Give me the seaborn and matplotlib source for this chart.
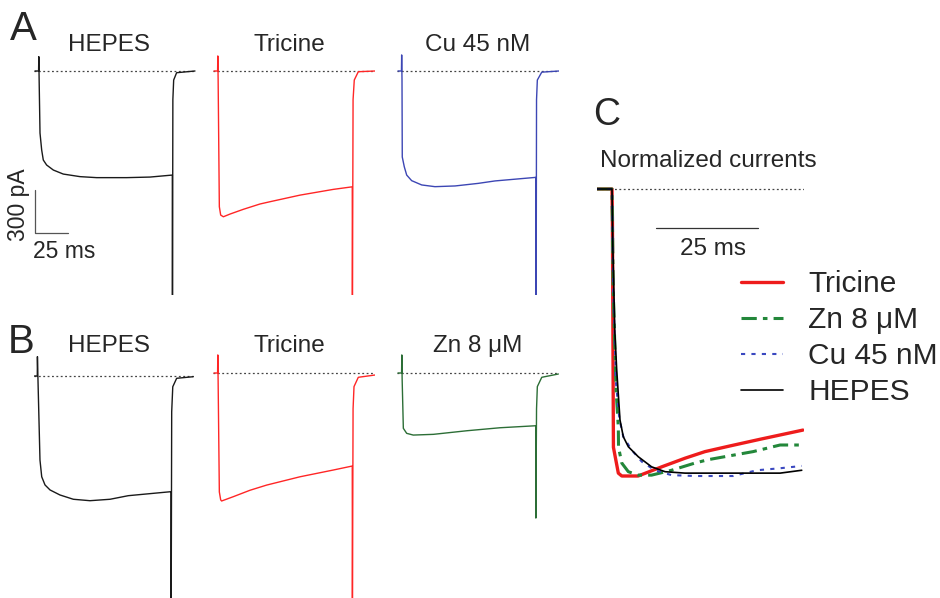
import matplotlib
matplotlib.use("Agg")
import matplotlib.pyplot as plt
import seaborn as sns

sns.set_theme(style="white")
plt.rcParams['font.family'] = ['Liberation Sans', 'DejaVu Sans']

# ---------------- data (time in ms, current in pA) ----------------
A_hepes_t = [-3, -0.3, -0.15, 0.1, 0.75, 2.0, 3.2, 5.7, 10.7, 18.1, 30.6, 43.0, 65.4, 82.8, 99.5,
             99.6, 99.9, 100.5, 102.7, 116.4]
A_hepes_i = [0, 0, 100, -60, -433, -551, -621, -656, -691, -719, -737, -744, -744, -740, -726,
             -1700, -200, -63, -12, 0]

A_tric_t = [-3, -0.3, -0.15, 0.1, 1.0, 2.0, 4.0, 9.0, 18.9, 31.3, 38.8, 61.2, 86.0, 100.2,
            100.3, 100.8, 101.7, 104.7, 117.2]
A_tric_i = [0, 0, 105, -60, -947, -1005, -1017, -998, -965, -928, -912, -866, -826, -808,
            -1700, -200, -63, -5, 0]

A_cu_t = [-3, -0.4, -0.25, 0.0, 0.2, 1.7, 3.5, 7.2, 14.7, 24.6, 39.6, 56.9, 69.4, 100.0,
          100.1, 100.4, 101.0, 104.3, 117.2]
A_cu_i = [0, 0, 112, -60, -600, -668, -726, -765, -795, -807, -802, -784, -767, -742,
          -1700, -200, -63, -8, 0]

B_hepes_t = [-3, -0.9, -0.8, -0.3, 1.1, 2.4, 4.85, 8.6, 16.0, 26.0, 38.4, 53.4, 67.0, 98.9,
             99.0, 99.4, 100.2, 103.1, 115.4]
B_hepes_i = [0, 0, 135, -60, -586, -703, -760, -795, -830, -860, -870, -860, -835, -807,
             -1700, -250, -75, -16, -5]

B_tric_t = [-3, -0.3, -0.15, 0.1, 1.0, 2.0, 2.7, 11.4, 23.9, 36.3, 61.2, 86.0, 100.2,
            100.3, 100.8, 101.5, 104.7, 117.2]
B_tric_i = [0, 0, 126, -60, -830, -885, -893, -863, -818, -782, -724, -677, -649,
            -1700, -250, -95, -30, -14]

B_zn_t = [-3, -0.3, -0.15, 0.1, 1.0, 3.5, 8.4, 23.4, 48.3, 73.1, 99.8, 99.9, 100.4, 101.0, 104.3, 116.7]
B_zn_i = [0, 0, 126, -40, -386, -421, -433, -428, -403, -382, -368, -1012, -250, -95, -30, -7]

# normalized currents (panel C), time in ms
C_tric_t = [-3.7, 0, 0.1, 0.35, 1.55, 2.4, 6.4, 12.2, 17.9, 22.8, 29.0, 36.3, 46.8]
C_tric_n = [0, 0, -0.1, -0.9, -0.99, -1.0, -1.0, -0.968, -0.938, -0.915, -0.895, -0.872, -0.84]
C_zn_t = [-3.7, 0, 0.3, 1.0, 1.55, 1.6, 2.4, 4.0, 6.45, 9.7, 14.6, 20.3, 23.6, 34.6, 41.2, 46.8]
C_zn_n = [0, 0, -0.35, -0.7, -0.83, -0.9, -0.955, -0.985, -0.997, -0.997, -0.98, -0.955, -0.943,
          -0.915, -0.892, -0.892]
C_cu_t = [-3.7, 0, 0.3, 1.0, 1.8, 2.77, 4.8, 7.3, 10.5, 14.6, 20.3, 29.7, 35.5, 41.2, 46.5]
C_cu_n = [0, 0, -0.35, -0.68, -0.8, -0.863, -0.909, -0.95, -0.98, -0.997, -1.0, -1.0, -0.98,
          -0.973, -0.965]
C_hep_t = [-3.7, 0, 0.2, 0.7, 1.15, 1.96, 2.77, 4.0, 6.45, 9.7, 13.0, 17.9, 22.8, 28.9, 41.2, 46.5]
C_hep_n = [0, 0, -0.2, -0.5, -0.63, -0.805, -0.863, -0.898, -0.933, -0.968, -0.985, -0.99, -0.99,
           -0.99, -0.99, -0.98]

titles_A = ["HEPES", "Tricine", "Cu 45 nM"]
titles_B = ["HEPES", "Tricine", "Zn 8 \u03bcM"]
legend_labels = ["Tricine", "Zn 8 \u03bcM", "Cu 45 nM", "HEPES"]

# ---------------- layout ----------------
W, H = 940, 598
fig = plt.figure(figsize=(W / 100, H / 100), dpi=100)
fig.patch.set_facecolor("white")

SX = 1.34          # px per ms (panels A, B)
SY = 43 / 300.0    # px per pA

def px_axes(x0, y0, xlim, ylim, sx, sy):
    left = x0 + xlim[0] * sx
    width = (xlim[1] - xlim[0]) * sx
    top = y0 - ylim[1] * sy
    height = (ylim[1] - ylim[0]) * sy
    ax = fig.add_axes([left / W, 1 - (top + height) / H, width / W, height / H])
    ax.set_xlim(xlim)
    ax.set_ylim(ylim)
    ax.axis("off")
    return ax

def ftext(x, y, s, **kw):
    fig.text(x / W, 1 - y / H, s, **kw)

BLACK = "#1a1a1a"
RED = "#ff2626"
BLUE = "#3c46b4"
GREEN = "#2c6e36"

panels = [
    (39, 71, A_hepes_t, A_hepes_i, BLACK, (-1563, 150)),
    (218, 71, A_tric_t, A_tric_i, RED, (-1563, 150)),
    (402, 71, A_cu_t, A_cu_i, BLUE, (-1563, 150)),
    (38.5, 376, B_hepes_t, B_hepes_i, BLACK, (-1700, 150)),
    (218, 373, B_tric_t, B_tric_i, RED, (-1700, 150)),
    (402, 373, B_zn_t, B_zn_i, GREEN, (-1700, 150)),
]

axes = []
for x0, y0, t, i, col, yl in panels:
    ax = px_axes(x0, y0, (-3.5, 117.5), yl, SX, SY)
    ax.axhline(0, color="#444444", lw=0.9, ls=(0, (1.5, 2)), zorder=0)
    sns.lineplot(x=t, y=i, ax=ax, sort=False, estimator=None, color=col, lw=1.0)
    axes.append(ax)

# scale bar (panel A): 25 ms x 300 pA
axA = axes[0]
sb_t = [-3, -3, 22]
sb_i = [-830, -1130, -1130]
sns.lineplot(x=sb_t, y=sb_i, ax=axA, sort=False, estimator=None, color="#555555", lw=0.9)
ftext(19, 205, "300 pA", rotation=90, ha="center", va="center", fontsize=16.5)
ftext(64, 258, "25 ms", ha="center", va="baseline", fontsize=16.5)

# ---------------- panel C ----------------
axC = px_axes(612, 189, (-3.7, 47.0), (-1.05, 0.03), 4.08, 287.0)
axC.axhline(0, color="#444444", lw=0.9, ls=(0, (1.5, 2)), zorder=0)
sns.lineplot(x=C_tric_t, y=C_tric_n, ax=axC, sort=False, estimator=None,
             color="#ee1c1c", lw=2.4, label=legend_labels[0])
sns.lineplot(x=C_zn_t, y=C_zn_n, ax=axC, sort=False, estimator=None,
             color="#23873a", lw=2.2, linestyle=(0, (5, 2, 1.5, 2)), label=legend_labels[1])
sns.lineplot(x=C_cu_t, y=C_cu_n, ax=axC, sort=False, estimator=None,
             color="#3a48c0", lw=1.5, linestyle=(0, (2, 3)), label=legend_labels[2])
sns.lineplot(x=C_hep_t, y=C_hep_n, ax=axC, sort=False, estimator=None,
             color="black", lw=1.2, label=legend_labels[3])
sns.lineplot(x=[10.8, 35.8], y=[-0.136, -0.136], ax=axC, sort=False, estimator=None,
             color="#333333", lw=0.9)
handles, labels = axC.get_legend_handles_labels()
axC.legend(handles[:4], labels[:4], loc="upper left",
           bbox_to_anchor=(741 / W, 1 - 270 / H), bbox_transform=fig.transFigure,
           frameon=False, fontsize=21.5, handlelength=1.4, handletextpad=0.85,
           labelspacing=0.27, borderpad=0, borderaxespad=0)
ftext(713, 255, "25 ms", ha="center", va="baseline", fontsize=17.5)
ftext(600, 167, "Normalized currents", ha="left", va="baseline", fontsize=17.5)

# ---------------- titles & letters ----------------
for cx, s in zip([109, 289, 478], titles_A):
    ftext(cx, 51, s, ha="center", va="baseline", fontsize=17.5)
for cx, s in zip([109, 289, 478], titles_B):
    ftext(cx, 352, s, ha="center", va="baseline", fontsize=17.5)
ftext(10, 40, "A", ha="left", va="baseline", fontsize=29)
ftext(8, 353, "B", ha="left", va="baseline", fontsize=29)
ftext(593, 125, "C", ha="left", va="baseline", fontsize=27)

fig.savefig("out.png", dpi=100, facecolor="white")
